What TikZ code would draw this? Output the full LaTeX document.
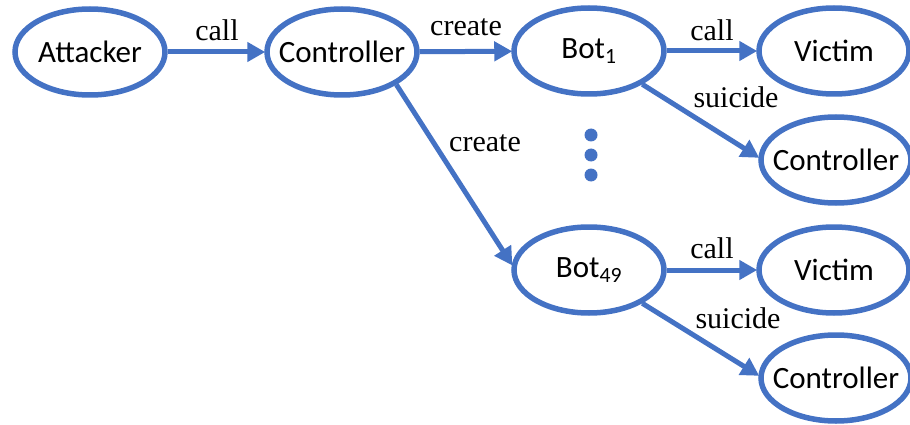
\documentclass[tikz,border=0pt]{standalone}
\usepackage{fontspec}
\setmainfont{Carlito}
\newfontfamily\labelfont{Liberation Serif}
\usetikzlibrary{shapes.geometric,arrows.meta}
\definecolor{nodeblue}{HTML}{4472C4}
\newcommand{\nt}[1]{\makebox[0pt]{#1}}
\begin{document}
\begin{tikzpicture}[x=1pt,y=-1pt,
  ell/.style={ellipse,draw=nodeblue,line width=5.5pt,minimum width=150pt,minimum height=86pt,inner sep=0pt,
    font=\fontsize{31}{36}\selectfont},
  conn/.style={draw=nodeblue,line width=5pt,shorten >=-1pt,-{Triangle[length=18pt,width=19pt]}},
  lbl/.style={font=\labelfont\fontsize{30}{34}\selectfont,inner sep=0pt},
  dot/.style={circle,fill=nodeblue,minimum size=13pt,inner sep=0pt}]
\useasboundingbox (0,0) rectangle (910,425);
\node[ell] (att) at (90,52) {\nt{Attacker}};
\node[ell] (ctrl) at (342,52) {\nt{Controller}};
\node[ell] (bot1) at (589,51) {\nt{Bot\textsubscript{1}}};
\node[ell] (vic1) at (834,51) {\nt{Victim}};
\node[ell] (ctrl1) at (836,160) {\nt{Controller}};
\node[ell] (bot49) at (589,270) {\nt{Bot\textsubscript{49}}};
\node[ell] (vic2) at (834,270) {\nt{Victim}};
\node[ell] (ctrl2) at (836,378) {\nt{Controller}};
\node[dot] (d1) at (591,135) {};
\node[dot] (d2) at (591,155) {};
\node[dot] (d3) at (591,175) {};
\draw[conn] (att) -- (ctrl);
\draw[conn] (ctrl) -- (bot1);
\draw[conn] (ctrl.-31) -- (bot49.176);
\draw[conn] (bot1) -- (vic1);
\draw[conn] (bot1.-32) -- (ctrl1.178);
\draw[conn] (bot49) -- (vic2);
\draw[conn] (bot49.-32) -- (ctrl2.178);
\node[lbl] (l1) at (217,30) {call};
\node[lbl] (l2) at (466,27) {create};
\node[lbl] (l3) at (485,143) {create};
\node[lbl] (l4) at (712,30) {call};
\node[lbl] (l5) at (736,97) {suicide};
\node[lbl] (l6) at (712,248) {call};
\node[lbl] (l7) at (738,318) {suicide};
\end{tikzpicture}
\end{document}
